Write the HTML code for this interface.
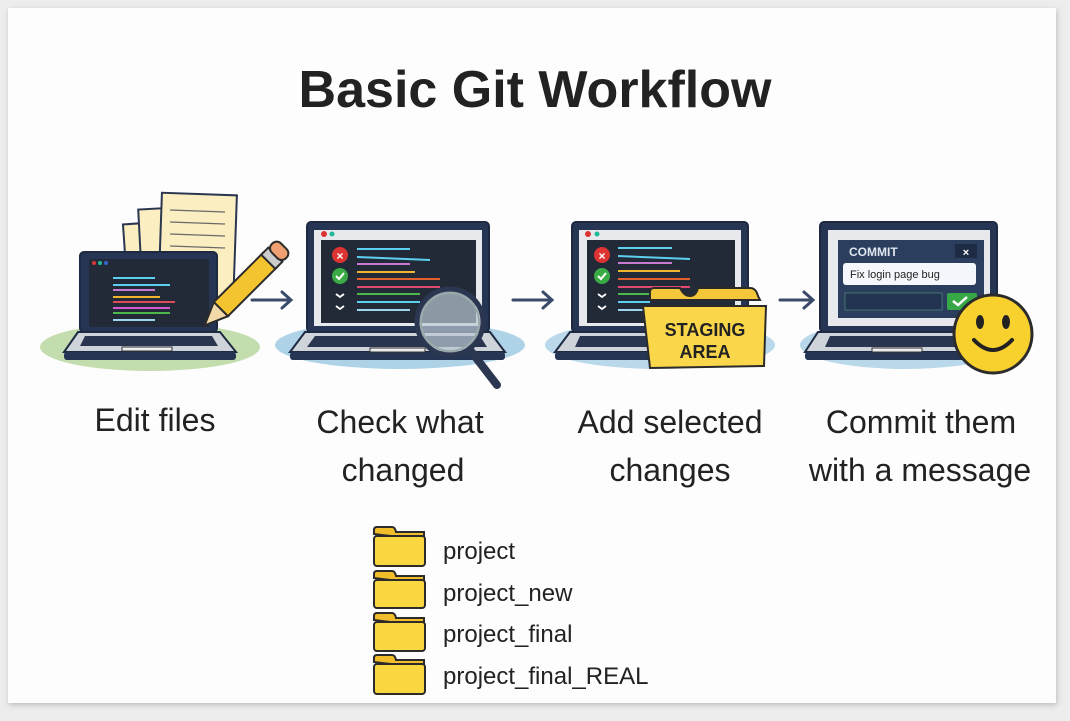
<!DOCTYPE html>
<html><head><meta charset="utf-8"><style>
html,body{margin:0;padding:0;background:#ededed;width:1070px;height:721px;overflow:hidden}
svg{display:block}
text{font-family:"Liberation Sans","DejaVu Sans",sans-serif}
</style></head><body>
<svg width="1070" height="721" viewBox="0 0 1070 721" xmlns="http://www.w3.org/2000/svg">
<defs>
<filter id="sh" x="-5%" y="-5%" width="110%" height="110%"><feGaussianBlur stdDeviation="3"/></filter>
</defs>
<rect x="9" y="10" width="1048" height="695" fill="#bbb" filter="url(#sh)"/>
<rect x="8" y="8" width="1048" height="695" fill="#fdfdfd"/>
<text x="535" y="107" font-size="52" font-weight="bold" text-anchor="middle" fill="#222">Basic Git Workflow</text>

<!-- ground ellipses -->
<ellipse cx="150" cy="347" rx="110" ry="24" fill="#b5d49a" opacity="0.8"/>
<ellipse cx="400" cy="345" rx="125" ry="24" fill="#8cc0dd" opacity="0.7"/>
<ellipse cx="660" cy="345" rx="115" ry="24" fill="#8cc0dd" opacity="0.6"/>
<ellipse cx="905" cy="345" rx="105" ry="24" fill="#8cc0dd" opacity="0.6"/>

<!-- papers -->
<g stroke="#2b3650" stroke-width="2" fill="#fbeec0">
<rect x="125" y="223" width="40" height="60" transform="rotate(-4 145 253)"/>
<rect x="140" y="208" width="55" height="70" transform="rotate(-3 168 243)"/>
<rect x="160" y="194" width="75" height="110" transform="rotate(2 197 249)"/>
</g>
<g stroke="#6a6a6a" stroke-width="1.2"><line x1="170" y1="210" x2="225" y2="212"/><line x1="170" y1="222" x2="225" y2="224"/><line x1="170" y1="234" x2="225" y2="236"/><line x1="170" y1="246" x2="225" y2="248"/></g>

<!-- laptop 1 -->
<rect x="80" y="252" width="137" height="80" rx="4" fill="#253553" stroke="#1d2a42" stroke-width="2"/>
<rect x="89" y="259" width="120" height="68" fill="#222a38"/>
<circle cx="94" cy="263" r="2" fill="#d33"/><circle cx="100" cy="263" r="2" fill="#2b9"/><circle cx="106" cy="263" r="2" fill="#36c"/>
<g stroke-width="2"><line x1="113" y1="278" x2="155" y2="278" stroke="#5cd0ee"/><line x1="113" y1="285" x2="170" y2="285" stroke="#5cd0ee"/><line x1="113" y1="290" x2="155" y2="290" stroke="#c87ad0"/><line x1="113" y1="297" x2="160" y2="297" stroke="#f0b52e"/><line x1="113" y1="302" x2="175" y2="302" stroke="#e04a5a"/><line x1="113" y1="308" x2="170" y2="308" stroke="#d55ad0"/><line x1="113" y1="313" x2="170" y2="313" stroke="#4cb84c"/><line x1="113" y1="320" x2="155" y2="320" stroke="#9bd6ee"/></g>
<path d="M78 332 L220 332 L236 352 L64 352 Z" fill="#cfd3da" stroke="#1d2a42" stroke-width="2"/>
<rect x="64" y="352" width="172" height="8" rx="3" fill="#253553"/>
<path d="M85 336 L212 336 L218 346 L80 346 Z" fill="#2a3650"/>
<rect x="122" y="347" width="50" height="4" fill="#eee" stroke="#333" stroke-width="1"/>
<!-- pencil -->
<g transform="rotate(45 235 295)">
<rect x="225" y="245" width="20" height="70" fill="#f4c430" stroke="#2b2b2b" stroke-width="2"/>
<rect x="225" y="238" width="20" height="10" fill="#ccc" stroke="#2b2b2b" stroke-width="2"/>
<rect x="225" y="226" width="20" height="13" rx="6" fill="#f0a070" stroke="#2b2b2b" stroke-width="2"/>
<path d="M225 315 L245 315 L235 338 Z" fill="#f3d8a8" stroke="#2b2b2b" stroke-width="2"/>
</g>

<!-- arrows -->
<g stroke="#3a4a6a" stroke-width="3" fill="none" stroke-linecap="round">
<path d="M252 300 L290 300 M282 292 L291 300 L282 308"/>
<path d="M513 300 L551 300 M543 292 L552 300 L543 308"/>
<path d="M780 300 L812 300 M804 292 L813 300 L804 308"/>
</g>

<!-- laptop 2 -->
<rect x="307" y="222" width="182" height="110" rx="4" fill="#253553" stroke="#1d2a42" stroke-width="2"/>
<rect x="314" y="230" width="168" height="96" fill="#e8e9ec"/>
<rect x="321" y="240" width="155" height="83" fill="#222a38"/>
<circle cx="324" cy="234" r="3" fill="#d33"/><circle cx="332" cy="234" r="2.5" fill="#2b9"/>
<circle cx="340" cy="255" r="8" fill="#d33"/><text x="340" y="260" font-size="12" font-weight="bold" fill="#fff" text-anchor="middle">×</text>
<circle cx="340" cy="276" r="8" fill="#3aaa45"/><path d="M336 276 l3 3 l5 -6" stroke="#fff" stroke-width="2" fill="none"/>
<path d="M336 294 l4 3 l4 -3 M336 306 l4 3 l4 -3" stroke="#fff" stroke-width="1.8" fill="none"/>
<g stroke-width="2"><line x1="357" y1="249" x2="410" y2="249" stroke="#5cd0ee"/><line x1="357" y1="257" x2="430" y2="260" stroke="#5cd0ee"/><line x1="357" y1="264" x2="410" y2="264" stroke="#c87ad0"/><line x1="357" y1="272" x2="415" y2="272" stroke="#f0b52e"/><line x1="357" y1="279" x2="440" y2="279" stroke="#e06030"/><line x1="357" y1="287" x2="440" y2="287" stroke="#e04a70"/><line x1="357" y1="294" x2="420" y2="294" stroke="#4cb84c"/><line x1="357" y1="302" x2="420" y2="302" stroke="#5cd0ee"/><line x1="357" y1="310" x2="410" y2="310" stroke="#9bd6ee"/></g>
<path d="M305 332 L490 332 L505 352 L290 352 Z" fill="#cfd3da" stroke="#1d2a42" stroke-width="2"/>
<rect x="290" y="352" width="215" height="8" rx="3" fill="#253553"/>
<path d="M315 336 L480 336 L487 347 L307 347 Z" fill="#2a3650"/>
<rect x="370" y="348" width="55" height="4" fill="#eee" stroke="#333"/>
<line x1="470" y1="350" x2="497" y2="385" stroke="#2b3650" stroke-width="8" stroke-linecap="round"/>
<circle cx="450" cy="322" r="33" fill="#b9c7d3" fill-opacity="0.7" stroke="#2b3650" stroke-width="5"/>
<circle cx="450" cy="322" r="29" fill="none" stroke="#9aa" stroke-width="2"/>

<!-- laptop 3 -->
<rect x="572" y="222" width="176" height="110" rx="4" fill="#253553" stroke="#1d2a42" stroke-width="2"/>
<rect x="579" y="230" width="162" height="96" fill="#e8e9ec"/>
<rect x="587" y="240" width="148" height="83" fill="#222a38"/>
<circle cx="588" cy="234" r="3" fill="#d33"/><circle cx="597" cy="234" r="2.5" fill="#2b9"/>
<circle cx="602" cy="255" r="8" fill="#d33"/><text x="602" y="260" font-size="12" font-weight="bold" fill="#fff" text-anchor="middle">×</text>
<circle cx="602" cy="276" r="8" fill="#3aaa45"/><path d="M598 276 l3 3 l5 -6" stroke="#fff" stroke-width="2" fill="none"/>
<path d="M598 294 l4 3 l4 -3 M598 306 l4 3 l4 -3" stroke="#fff" stroke-width="1.8" fill="none"/>
<g stroke-width="2"><line x1="618" y1="248" x2="672" y2="248" stroke="#5cd0ee"/><line x1="618" y1="256" x2="690" y2="259" stroke="#5cd0ee"/><line x1="618" y1="263" x2="672" y2="263" stroke="#c87ad0"/><line x1="618" y1="271" x2="680" y2="271" stroke="#f0b52e"/><line x1="618" y1="279" x2="690" y2="279" stroke="#e06030"/><line x1="618" y1="287" x2="690" y2="287" stroke="#e04a70"/><line x1="618" y1="294" x2="660" y2="294" stroke="#4cb84c"/><line x1="618" y1="302" x2="650" y2="302" stroke="#5cd0ee"/><line x1="618" y1="310" x2="650" y2="310" stroke="#9bd6ee"/></g>
<path d="M570 332 L750 332 L762 352 L555 352 Z" fill="#cfd3da" stroke="#1d2a42" stroke-width="2"/>
<rect x="555" y="352" width="207" height="8" rx="3" fill="#253553"/>
<path d="M580 336 L740 336 L745 347 L575 347 Z" fill="#2a3650"/>
<!-- staging folder -->
<path d="M650 300 L650 292 Q650 288 654 288 L680 288 Q684 296 690 296 Q696 296 698 288 L750 288 Q756 288 758 296 L760 300 Z" fill="#f4c63a" stroke="#2b2b2b" stroke-width="2"/>
<path d="M643 306 L766 306 L764 366 L650 368 Z" fill="#f9d64a" stroke="#2b2b2b" stroke-width="2"/>
<text x="705" y="336" font-size="18" font-weight="bold" fill="#222" text-anchor="middle">STAGING</text>
<text x="705" y="358" font-size="18" font-weight="bold" fill="#222" text-anchor="middle">AREA</text>

<!-- laptop 4 -->
<rect x="820" y="222" width="177" height="110" rx="4" fill="#253553" stroke="#1d2a42" stroke-width="2"/>
<rect x="828" y="230" width="162" height="96" fill="#e8e9ec"/>
<rect x="838" y="240" width="146" height="78" fill="#2c3e5e"/>
<text x="849" y="256" font-size="12" font-weight="bold" fill="#dfe6f0">COMMIT</text>
<rect x="955" y="244" width="22" height="14" fill="#1e2b44"/><text x="966" y="256" font-size="11" font-weight="bold" fill="#fff" text-anchor="middle">×</text>
<rect x="843" y="263" width="133" height="22" rx="3" fill="#f4f7fb"/>
<text x="850" y="278" font-size="11" fill="#222">Fix login page bug</text>
<rect x="845" y="293" width="97" height="17" fill="#233352" stroke="#8fa" stroke-opacity="0.3"/>
<rect x="947" y="293" width="30" height="17" rx="2" fill="#36a845"/>
<path d="M953 301 l5 4 l9 -8" stroke="#fff" stroke-width="2.5" fill="none"/>
<path d="M818 332 L1000 332 L1010 352 L805 352 Z" fill="#cfd3da" stroke="#1d2a42" stroke-width="2"/>
<rect x="805" y="352" width="205" height="8" rx="3" fill="#253553"/>
<path d="M830 336 L990 336 L995 347 L825 347 Z" fill="#2a3650"/>
<rect x="872" y="348" width="50" height="4" fill="#eee" stroke="#333"/>
<!-- smiley -->
<circle cx="993" cy="334" r="39" fill="#f8d12e" stroke="#2b2b2b" stroke-width="3"/>
<ellipse cx="980" cy="322" rx="4" ry="7" fill="#222"/><ellipse cx="1006" cy="322" rx="4" ry="7" fill="#222"/>
<path d="M974 340 Q993 360 1012 340" stroke="#222" stroke-width="4" fill="none" stroke-linecap="round"/>

<!-- labels -->
<g font-size="32" fill="#222" text-anchor="middle">
<text x="155" y="431">Edit files</text>
<text x="400" y="433">Check what</text>
<text x="403" y="481">changed</text>
<text x="670" y="433">Add selected</text>
<text x="670" y="481">changes</text>
<text x="921" y="433">Commit them</text>
<text x="920" y="481">with a message</text>
</g>

<!-- folders list -->
<g stroke="#2b2b2b" stroke-width="2">
<path d="M374 534 L374 530 Q374 527 377 527 L392 527 Q395 527 396 532 L424 532 L424 540 Z" fill="#f2bd2a"/><rect x="374" y="536" width="51" height="30" rx="3" fill="#fad641"/>
<path d="M374 578 L374 574 Q374 571 377 571 L392 571 Q395 571 396 576 L424 576 L424 584 Z" fill="#f2bd2a"/><rect x="374" y="580" width="51" height="28" rx="3" fill="#fad641"/>
<path d="M374 620 L374 616 Q374 613 377 613 L392 613 Q395 613 396 618 L424 618 L424 626 Z" fill="#f2bd2a"/><rect x="374" y="622" width="51" height="29" rx="3" fill="#fad641"/>
<path d="M374 662 L374 658 Q374 655 377 655 L392 655 Q395 655 396 660 L424 660 L424 668 Z" fill="#f2bd2a"/><rect x="374" y="664" width="51" height="30" rx="3" fill="#fad641"/>
</g>
<g font-size="24" fill="#222">
<text x="443" y="559">project</text>
<text x="443" y="601">project_new</text>
<text x="443" y="642">project_final</text>
<text x="443" y="684">project_final_REAL</text>
</g>
</svg>
</body></html>
